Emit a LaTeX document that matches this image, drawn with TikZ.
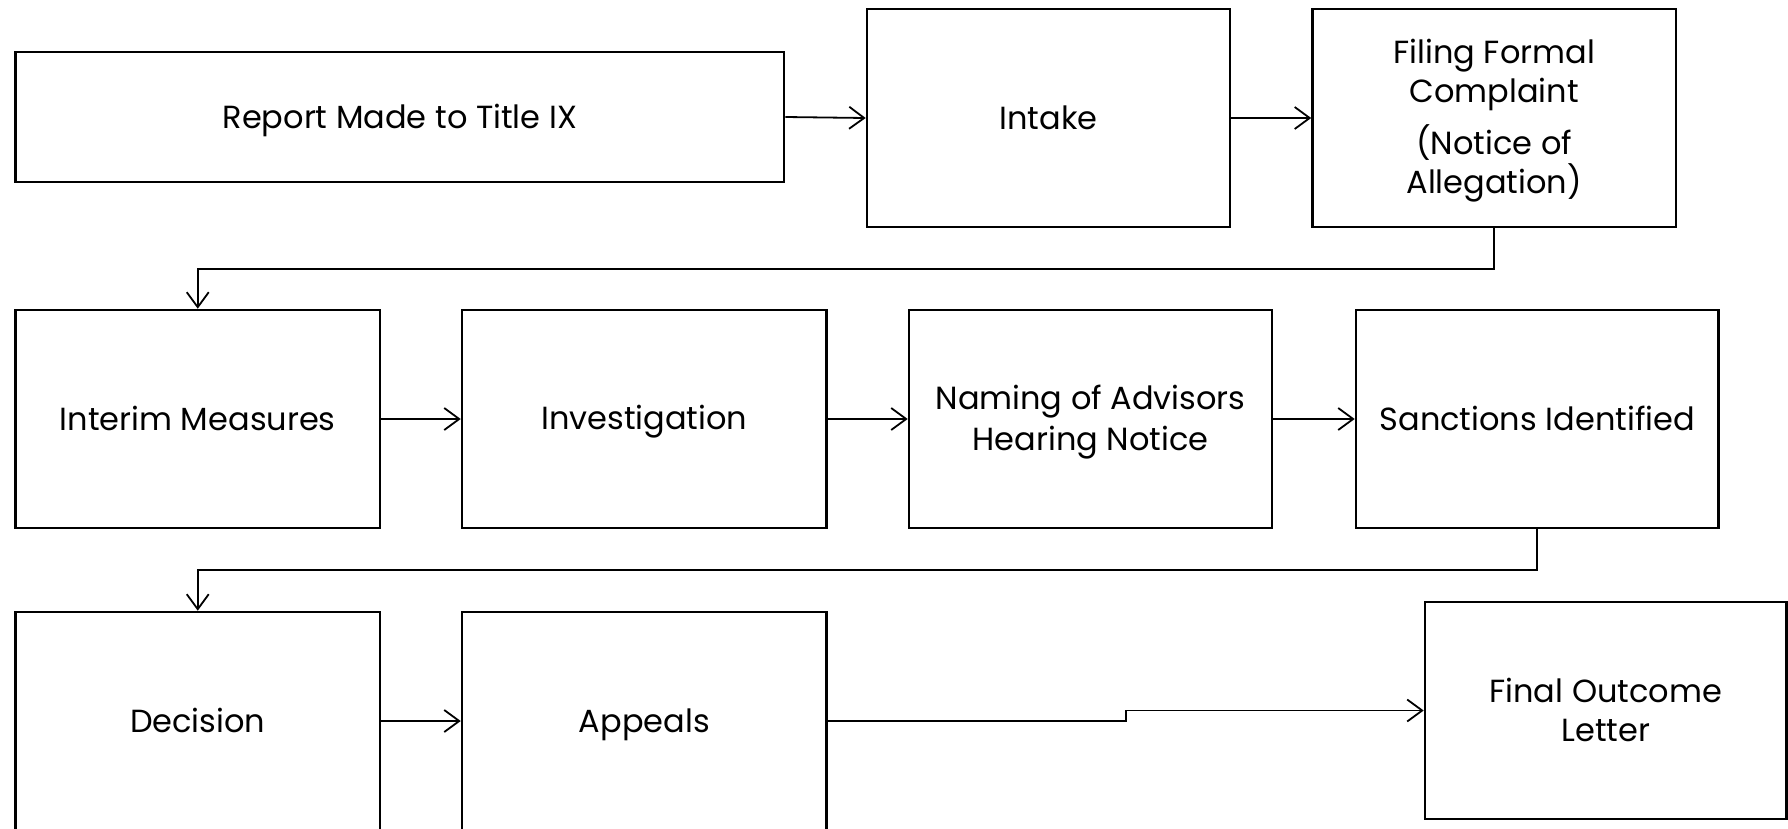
\documentclass[tikz,border=0pt]{standalone}
\usepackage{fontspec}
\setmainfont{Poppins}
\usetikzlibrary{arrows.meta}
\newcommand{\lnstrut}{\rule[-8pt]{0pt}{38.6pt}}
\begin{document}
\begin{tikzpicture}[x=1pt,y=-1pt,
  box/.style={draw=black, line width=2.6pt, rectangle, align=center, inner sep=0pt,
    font=\fontsize{32}{39}\selectfont},
  conn/.style={draw=black, line width=1.8pt, -{Straight Barb[length=15pt,width=22pt,line width=1.8pt]}}]
\useasboundingbox[fill=white] (0,0) rectangle (1788,828);
% row 1
\node[box, minimum width=768.5pt, minimum height=130pt] (report) at (399.75,117) {\lnstrut Report Made to Title IX};
\node[box, minimum width=363pt, minimum height=218pt] (intake) at (1048.5,118) {\lnstrut Intake};
\node[box, minimum width=363.5pt, minimum height=218pt] (filing) at (1494.25,118) {\lnstrut Filing Formal\\Complaint\\[13pt](Notice of\\\lnstrut Allegation)};
% row 2
\node[box, minimum width=364.5pt, minimum height=218pt] (interim) at (197.75,419) {\lnstrut Interim Measures};
\node[box, minimum width=364.5pt, minimum height=218pt] (invest) at (644.3,419) {\lnstrut Investigation};
\node[box, minimum width=363pt, minimum height=218pt] (naming) at (1090.5,419) {\lnstrut Naming of Advisors\\\lnstrut Hearing Notice};
\node[box, minimum width=362.5pt, minimum height=218pt] (sanctions) at (1537.25,419) {\lnstrut Sanctions Identified};
% row 3
\node[box, minimum width=364.5pt, minimum height=218pt] (decision) at (197.75,721) {\lnstrut Decision};
\node[box, minimum width=364.5pt, minimum height=218pt] (appeals) at (644.3,721) {\lnstrut Appeals};
\node[box, minimum width=361.5pt, minimum height=217pt] (final) at (1605.75,710.5) {\lnstrut Final Outcome\\\lnstrut Letter};
\coordinate (jog) at (1126,0);
% connectors
\draw[conn] (report.east) -- (intake.west);
\draw[conn] (intake.east) -- (filing.west);
\draw[conn] (filing.south) -- ++(0,41) -| (interim.north);
\draw[conn] (interim.east) -- (invest.west);
\draw[conn] (invest.east) -- (naming.west);
\draw[conn] (naming.east) -- (sanctions.west);
\draw[conn] (sanctions.south) -- ++(0,41) -| (decision.north);
\draw[conn] (decision.east) -- (appeals.west);
\draw[conn] (appeals.east) -- (appeals.east -| jog) |- (final.west);
\end{tikzpicture}
\end{document}
